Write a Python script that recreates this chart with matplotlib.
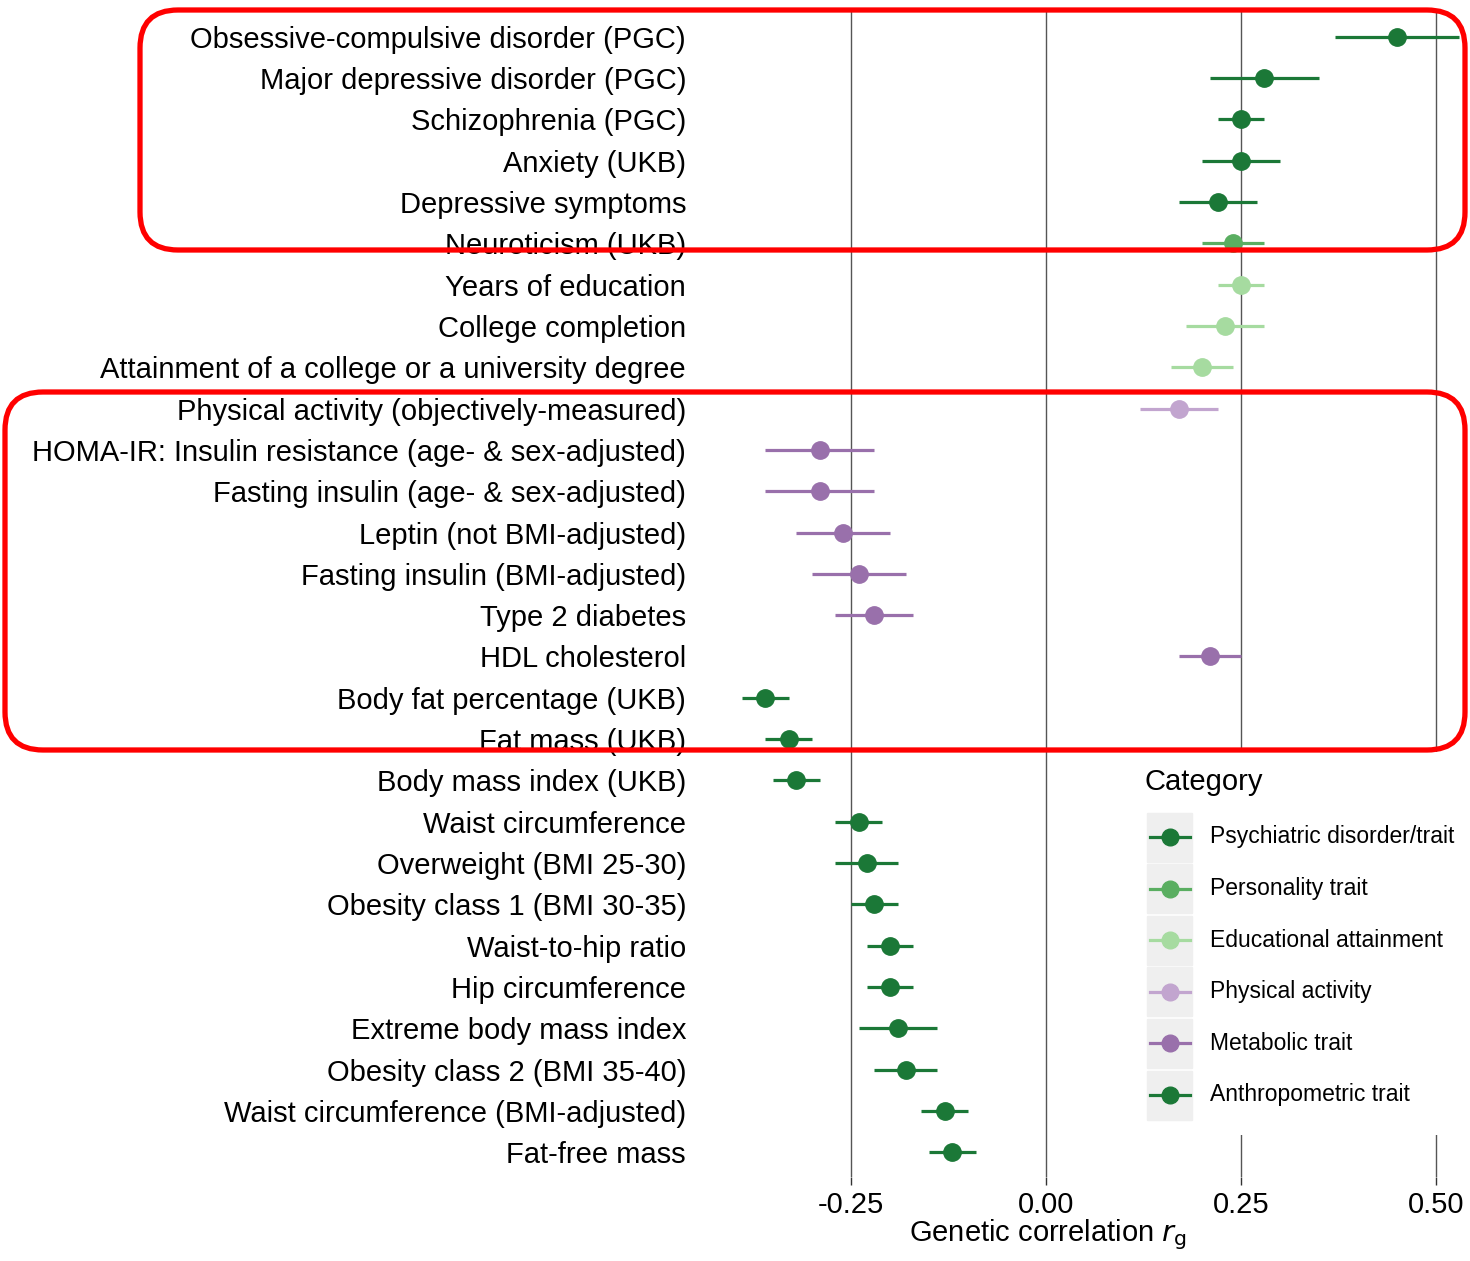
import matplotlib
matplotlib.use("Agg")
import matplotlib.pyplot as plt
from matplotlib.patches import FancyBboxPatch, Rectangle

plt.rcParams["font.family"] = ["Liberation Sans", "DejaVu Sans"]

# Traits, top to bottom
traits = [
    "Obsessive-compulsive disorder (PGC)",
    "Major depressive disorder (PGC)",
    "Schizophrenia (PGC)",
    "Anxiety (UKB)",
    "Depressive symptoms",
    "Neuroticism (UKB)",
    "Years of education",
    "College completion",
    "Attainment of a college or a university degree",
    "Physical activity (objectively-measured)",
    "HOMA-IR: Insulin resistance (age- & sex-adjusted)",
    "Fasting insulin (age- & sex-adjusted)",
    "Leptin (not BMI-adjusted)",
    "Fasting insulin (BMI-adjusted)",
    "Type 2 diabetes",
    "HDL cholesterol",
    "Body fat percentage (UKB)",
    "Fat mass (UKB)",
    "Body mass index (UKB)",
    "Waist circumference",
    "Overweight (BMI 25-30)",
    "Obesity class 1 (BMI 30-35)",
    "Waist-to-hip ratio",
    "Hip circumference",
    "Extreme body mass index",
    "Obesity class 2 (BMI 35-40)",
    "Waist circumference (BMI-adjusted)",
    "Fat-free mass",
]
category = (["Psychiatric disorder/trait"] * 5 + ["Personality trait"]
            + ["Educational attainment"] * 3 + ["Physical activity"]
            + ["Metabolic trait"] * 6 + ["Anthropometric trait"] * 12)
rg = [0.45, 0.28, 0.25, 0.25, 0.22, 0.24, 0.25, 0.23, 0.20, 0.17,
      -0.29, -0.29, -0.26, -0.24, -0.22, 0.21,
      -0.36, -0.33, -0.32, -0.24, -0.23, -0.22, -0.20, -0.20, -0.19, -0.18, -0.13, -0.12]
ci_low = [0.37, 0.21, 0.22, 0.20, 0.17, 0.20, 0.22, 0.18, 0.16, 0.12,
          -0.36, -0.36, -0.32, -0.30, -0.27, 0.17,
          -0.39, -0.36, -0.35, -0.27, -0.27, -0.25, -0.23, -0.23, -0.24, -0.22, -0.16, -0.15]
ci_high = [0.53, 0.35, 0.28, 0.30, 0.27, 0.28, 0.28, 0.28, 0.24, 0.22,
           -0.22, -0.22, -0.20, -0.18, -0.17, 0.25,
           -0.33, -0.30, -0.29, -0.21, -0.19, -0.19, -0.17, -0.17, -0.14, -0.14, -0.10, -0.09]

categories = ["Psychiatric disorder/trait", "Personality trait", "Educational attainment",
              "Physical activity", "Metabolic trait", "Anthropometric trait"]
colors = ["#1b7837", "#5aae61", "#a6dba0", "#c2a5cf", "#9970ab", "#1b7837"]
cat_color = dict(zip(categories, colors))

fig = plt.figure(figsize=(14.7, 12.61), dpi=100)
ax = fig.add_axes([700 / 1470, 84 / 1261, 770 / 1470, 1165 / 1261])

# vertical reference lines
for xv in [-0.25, 0.0, 0.25, 0.5]:
    ax.axvline(xv, color="#555555", lw=1.0, zorder=1)

for i, name in enumerate(traits):
    c = cat_color[category[i]]
    ax.plot([ci_low[i], ci_high[i]], [i, i], color=c, lw=2.3, zorder=2, solid_capstyle="butt")
    ax.plot(rg[i], i, "o", color=c, markersize=12.5, zorder=3)

ax.set_xlim(-0.4436, 0.5436)
ax.set_ylim(len(traits) - 0.4, -0.6)
ax.set_yticks(range(len(traits)))
ax.set_yticklabels(traits, fontsize=21)
ax.set_xticks([-0.25, 0.0, 0.25, 0.5])
ax.set_xticklabels(["-0.25", "0.00", "0.25", "0.50"], fontsize=21)
ax.tick_params(axis="y", length=0, pad=10)
ax.tick_params(axis="x", length=6, width=1.0, color="#333333", pad=4)
for s in ax.spines.values():
    s.set_visible(False)
ax.set_xlabel("Genetic correlation $r_\\mathrm{g}$", fontsize=21)
ax.xaxis.set_label_coords(0.452, -0.035)

# legend drawn by hand, ggplot style keys
lax = fig.add_axes([1135 / 1470, 126 / 1261, 335 / 1470, 383 / 1261], zorder=5)
lax.set_xlim(0, 335)
lax.set_ylim(383, 0)
lax.axis("off")
lax.add_patch(Rectangle((0, 0), 335, 383, color="white", zorder=0))
lax.text(10, 30, "Category", fontsize=21, va="center", ha="left")
for k, cat in enumerate(categories):
    yc = 85 + k * 51.6
    lax.add_patch(Rectangle((12, yc - 24.5), 45, 49, color="#efefef", zorder=1))
    lax.plot([15, 55], [yc, yc], color=colors[k], lw=2.3, zorder=2)
    lax.plot(35, yc, "o", color=colors[k], markersize=12, zorder=3)
    lax.text(75, yc, cat, fontsize=16.5, va="center", ha="left")

# red highlight boxes on top
over = fig.add_axes([0, 0, 1, 1], zorder=10)
over.set_xlim(0, 1470)
over.set_ylim(1261, 0)
over.axis("off")
over.patch.set_alpha(0)
for x0, y0, x1, y1 in [(140, 10, 1465, 250), (5, 392, 1465, 750)]:
    over.add_patch(FancyBboxPatch((x0, y0), x1 - x0, y1 - y0,
                                  boxstyle="round,pad=0,rounding_size=38",
                                  fill=False, edgecolor="#ff0000", lw=3.8))

fig.savefig("out.png", dpi=100)
